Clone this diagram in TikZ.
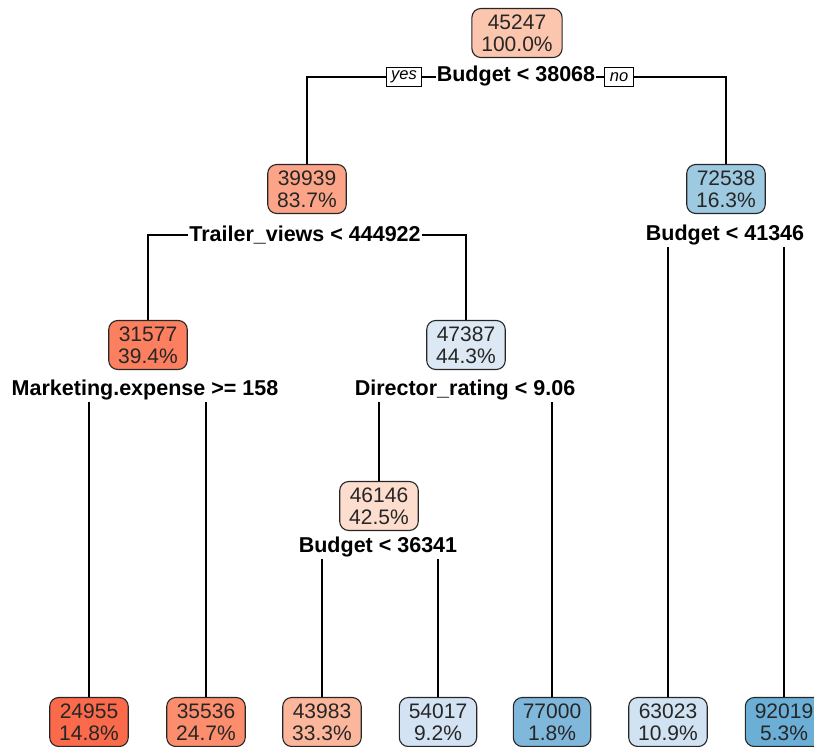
\documentclass[tikz,border=0pt]{standalone}
\usepackage{fontspec}
\setmainfont{Liberation Sans}
\usepackage{tikz}

% fill colours of the boxes
\definecolor{cA}{HTML}{FCC5AE}
\definecolor{cB}{HTML}{FCA487}
\definecolor{cC}{HTML}{9ECAE1}
\definecolor{cD}{HTML}{FC7F5F}
\definecolor{cE}{HTML}{DCE9F5}
\definecolor{cF}{HTML}{FDDDCD}
\definecolor{cG}{HTML}{FB6A4A}
\definecolor{cH}{HTML}{FC8E6E}
\definecolor{cI}{HTML}{FCB69C}
\definecolor{cJ}{HTML}{D3E3F3}
\definecolor{cK}{HTML}{7FB8DA}
\definecolor{cL}{HTML}{D1E2F2}
\definecolor{cM}{HTML}{6BAED6}

\begin{document}
\begin{tikzpicture}[x=1pt, y=-1pt,
  box/.style={draw=black!85, line width=1.1pt, rounded corners=9pt, align=center,
    inner xsep=9.5pt, inner ysep=2pt, minimum height=49pt, text=black!85,
    font=\fontsize{21}{22}\selectfont},
  split/.style={font=\fontsize{21.5}{22}\selectfont\bfseries, inner xsep=1pt, inner ysep=2pt},
  yn/.style={draw, line width=0.9pt, inner xsep=5pt, inner ysep=0pt, minimum height=19pt,
    font=\fontsize{16.5}{17}\selectfont\itshape},
  edge/.style={line width=1.2pt}]
  \clip (0,0) rectangle (814,747);

  % root
  \node[box, fill=cA] (root) at (517,33) {45247\\100.0\%};
  \node[split] (sRoot) at (516,76) {Budget < 38068};
  \node[yn] (yes) at (404,77) {yes};
  \node[yn] (no) at (619,77) {no};

  % second level
  \node[box, fill=cB] (n2) at (307,189) {39939\\83.7\%};
  \node[split] (s2) at (305,235) {Trailer\_views < 444922};
  \node[box, fill=cC] (n3) at (726,189) {72538\\16.3\%};
  \node[split] (s3) at (725,235) {Budget < 41346};

  % third level
  \node[box, fill=cD] (n4) at (148,345) {31577\\39.4\%};
  \node[split] (s4) at (145,390) {Marketing.expense >= 158};
  \node[box, fill=cE] (n5) at (466,345) {47387\\44.3\%};
  \node[split] (s5) at (465,390) {Director\_rating < 9.06};

  \node[box, fill=cF] (n10) at (379,506) {46146\\42.5\%};
  \node[split] (s10) at (378,547) {Budget < 36341};

  % leaves
  \node[box, fill=cG] (l8) at (89,722) {24955\\14.8\%};
  \node[box, fill=cH] (l9) at (206,722) {35536\\24.7\%};
  \node[box, fill=cI] (l20) at (322,722) {43983\\33.3\%};
  \node[box, fill=cJ] (l21) at (438,722) {54017\\9.2\%};
  \node[box, fill=cK] (l11) at (552,722) {77000\\1.8\%};
  \node[box, fill=cL] (l6) at (668,722) {63023\\10.9\%};
  \node[box, fill=cM] (l7) at (784,722) {92019\\5.3\%};

  % connectors
  \draw[edge] (yes.east) -- (yes.east -| sRoot.west);
  \draw[edge] (no.west -| sRoot.east) -- (no.west);
  \draw[edge] (yes.west) -| (n2.north);
  \draw[edge] (no.east) -| (n3.north);

  \draw[edge] (s2.west) -| (n4.north);
  \draw[edge] (s2.east) -| (n5.north);
  \draw[edge] (s3.south -| l6.north) -- (l6.north);
  \draw[edge] (s3.south -| l7.north) -- (l7.north);

  \draw[edge] (s4.south -| l8.north) -- (l8.north);
  \draw[edge] (s4.south -| l9.north) -- (l9.north);
  \draw[edge] (s5.south -| n10.north) -- (n10.north);
  \draw[edge] (s5.south -| l11.north) -- (l11.north);

  \draw[edge] (s10.south -| l20.north) -- (l20.north);
  \draw[edge] (s10.south -| l21.north) -- (l21.north);
\end{tikzpicture}
\end{document}
